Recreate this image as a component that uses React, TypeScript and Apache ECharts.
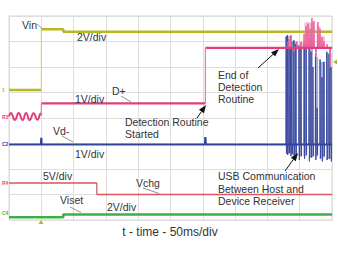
import React, { useEffect, useRef } from "react";
import * as echarts from "echarts";

// Horizontal axis: time in ms (10 div x 50 ms/div). Vertical axis: screen divisions (0..8).
const timeMax = 500;
const timeInterval = 50;
const divMax = 8;

// Vin (2V/div)
const vinTimes = [0, 50, 50, 84, 84, 500];
const vinLevels = [5.1, 5.1, 7.48, 7.48, 7.38, 7.38];

// D+ (1V/div) ripple before attach
const dpRippleTimes = [0, 3, 9, 15, 21, 26.5, 32, 38, 44, 49, 50];
const dpRippleLevels = [4.06, 4.2, 3.92, 4.2, 3.92, 4.2, 3.92, 4.19, 3.93, 4.18, 4.1];
// D+ main steps
const dpTimes = [50, 50, 304, 304, 500];
const dpLevels = [4.1, 4.57, 4.57, 6.75, 6.75];
const dpBase = 6.75;
// D+ spikes during USB traffic
const dpSpikeTimes = [431.9, 436.5, 441.2, 445.8, 452, 456.7, 459.8, 462.9, 466, 469, 472.1, 475.2, 478.3, 481.4, 484.5, 487.6, 492.3, 496.9];
const dpSpikeLevels = [7.0, 7.25, 6.6, 7.0, 6.98, 7.3, 7.6, 7.7, 7.5, 7.92, 7.8, 6.4, 7.76, 7.5, 7.18, 7.0, 6.9, 5.96];
// D+ light glow areas [centre ms, width ms, top]
const dpGlowTimes = [435, 452, 465, 479, 486];
const dpGlowWidths = [5, 6, 15, 6, 6];
const dpGlowTops = [7.2, 7.0, 7.75, 7.6, 7.2];

// Vd- (1V/div)
const vdBase = 2.96;
const vdTimes = [0, 49.5, 50, 50.5, 303.5, 304, 304.5, 500];
const vdLevels = [2.96, 2.96, 3.22, 2.96, 2.96, 3.25, 2.96, 2.96];
const vdSpikeTimes = [429, 431, 433.5, 436, 438, 441, 444, 449, 452, 457, 460, 464.5, 467.5, 470.5, 474.5, 477, 481.5, 484.5, 487.5, 492, 495.5, 498.5];
const vdSpikeHighs = [7.2, 7.25, 7.1, 7.2, 7.0, 7.05, 6.9, 6.85, 6.8, 6.9, 6.7, 6.85, 6.6, 6.0, 6.5, 4.4, 6.3, 5.6, 6.2, 6.6, 6.5, 6.0];
const vdSpikeLows = [2.6, 2.55, 2.62, 2.5, 2.58, 2.45, 2.5, 2.35, 2.5, 2.4, 2.55, 2.3, 2.45, 2.5, 2.35, 2.55, 2.4, 2.3, 2.5, 2.35, 2.4, 2.3];
// Vd- burst blocks [centre ms, width ms, top, bottom]
const vdBlockTimes = [433.4, 442.7, 450.5, 458.2, 467.5, 476, 485.3, 495.4];
const vdBlockWidths = [9.5, 6, 5, 5.5, 6, 5, 7, 7];
const vdBlockTops = [7.22, 7.0, 6.85, 6.85, 6.8, 6.4, 6.2, 6.55];
const vdBlockBottoms = [2.62, 2.55, 2.5, 2.5, 2.45, 2.5, 2.45, 2.4];

// Vchg (5V/div)
const vchgTimes = [0, 136, 136, 500];
const vchgLevels = [1.45, 1.45, 1.0, 1.0];

// Viset (2V/div)
const visetTimes = [0, 84, 84, 500];
const visetLevels = [0.11, 0.11, 0.22, 0.22];

const C_VIN = "#b8b720";
const C_DP = "#e23d7f";
const C_VD = "#34449b";
const C_VCHG = "#d9575c";
const C_VISET = "#40ae46";
const FONT = "Liberation Sans, Arial, sans-serif";
const TXT = "#333333";

// Split a stepped trace into flat segments (thick) and its fast edges (thin)
function splitEdges(times: number[], levels: number[]) {
  const flat: any[] = [];
  const edges: any[] = [];
  for (let i = 0; i < times.length; i++) {
    const isEdge = i > 0 && times[i] === times[i - 1] && Math.abs(levels[i] - levels[i - 1]) > 0.3;
    if (isEdge) {
      flat.push([times[i], null]);
      edges.push([times[i - 1], levels[i - 1]], [times[i], levels[i]], [times[i], null]);
    }
    flat.push([times[i], levels[i]]);
  }
  return { flat, edges };
}

export default function App() {
  const ref = useRef<HTMLDivElement>(null);
  useEffect(() => {
    if (!ref.current) return;
    const chart = echarts.init(ref.current, null, { renderer: "svg" });

    const vin = splitEdges(vinTimes, vinLevels);
    const dp = splitEdges(dpTimes, dpLevels);
    const vchg = splitEdges(vchgTimes, vchgLevels);
    const viset = splitEdges(visetTimes, visetLevels);

    const dpSpikeData: number[][] = [[427, dpBase]];
    dpSpikeTimes.forEach((t, i) => {
      dpSpikeData.push([t - 0.7, dpBase], [t, dpSpikeLevels[i]], [t + 0.7, dpBase]);
    });
    dpSpikeData.push([500, dpBase]);

    const vdData: number[][] = vdTimes.map((t, i) => [t, vdLevels[i]]);
    const vdSpikeData: number[][] = [[427, vdBase]];
    vdSpikeTimes.forEach((t, i) => {
      vdSpikeData.push([t - 0.4, vdBase], [t, vdSpikeHighs[i]], [t + 0.5, vdSpikeLows[i]], [t + 0.9, vdBase]);
    });
    vdSpikeData.push([500, vdBase]);

    const blockData = vdBlockTimes.map((t, i) => [t, vdBlockWidths[i], vdBlockTops[i], vdBlockBottoms[i]]);
    const glowData = dpGlowTimes.map((t, i) => [t, dpGlowWidths[i], dpGlowTops[i], dpBase]);

    const rectRender = (fill: string) => (params: any, api: any) => {
      const t = api.value(0), w = api.value(1), hi = api.value(2), lo = api.value(3);
      const p1 = api.coord([t - w / 2, hi]);
      const p2 = api.coord([t + w / 2, lo]);
      return {
        type: "rect",
        shape: { x: p1[0], y: p1[1], width: p2[0] - p1[0], height: p2[1] - p1[1] },
        style: { fill },
      };
    };

    const text = (s: string, x: number, y: number, size = 10.5, align = "left") => ({
      type: "text",
      x,
      y,
      style: { text: s, fill: TXT, font: `${size}px ${FONT}`, textAlign: align, textVerticalAlign: "middle" },
      z: 100,
    });
    const lead = (x1: number, y1: number, x2: number, y2: number) => ({
      type: "line",
      shape: { x1, y1, x2, y2 },
      style: { stroke: "#777", lineWidth: 0.8 },
      z: 100,
    });
    const arrow = (x1: number, y1: number, x2: number, y2: number) => {
      const dx = x2 - x1, dy = y2 - y1;
      const L = Math.hypot(dx, dy);
      const ux = dx / L, uy = dy / L;
      const bx = x2 - ux * 8, by = y2 - uy * 8;
      const px = -uy * 3, py = ux * 3;
      return [
        { type: "line", shape: { x1, y1, x2: bx, y2: by }, style: { stroke: "#111", lineWidth: 1 }, z: 100 },
        {
          type: "polygon",
          shape: { points: [[x2, y2], [bx + px, by + py], [bx - px, by - py]] },
          style: { fill: "#111" },
          z: 100,
        },
      ];
    };
    const marker = (s: string, y: number, color: string) => ({
      type: "text",
      x: 2,
      y,
      style: { text: s, fill: color, font: `bold 5px ${FONT}`, textVerticalAlign: "middle" },
      z: 100,
    });
    const line = (name: string, data: any[], color: string, width: number, z: number, extra: any = {}) => ({
      name,
      type: "line",
      data,
      symbol: "none",
      connectNulls: false,
      lineStyle: { color, width },
      z,
      ...extra,
    });

    chart.setOption({
      animation: false,
      grid: {
        left: 9,
        top: 16,
        width: 323,
        height: 204,
        show: true,
        borderColor: "#d6d6d6",
        borderWidth: 1,
        backgroundColor: "#fff",
      },
      xAxis: {
        type: "value",
        min: 0,
        max: timeMax,
        interval: timeInterval,
        axisLine: { show: false },
        axisTick: { show: false },
        axisLabel: { show: false },
        splitLine: { lineStyle: { color: "#dedede", width: 1 } },
      },
      yAxis: {
        type: "value",
        min: 0,
        max: divMax,
        interval: 1,
        axisLine: { show: false },
        axisTick: { show: false },
        axisLabel: { show: false },
        splitLine: { lineStyle: { color: "#dedede", width: 1 } },
      },
      series: [
        line("Viset", viset.flat, C_VISET, 2.5, 2),
        line("Viset edge", viset.edges, C_VISET, 1, 2),
        line("Vchg", vchg.flat, C_VCHG, 1.5, 2),
        line("Vchg edge", vchg.edges, "#b03a3a", 1, 2),
        line("Vin", vin.flat, C_VIN, 2.5, 2),
        line("Vin edge", vin.edges, "#cfcf6a", 1, 2),
        {
          name: "VdBlocks",
          type: "custom",
          data: blockData,
          encode: { x: 0, y: 2 },
          renderItem: rectRender("#a7b0dc"),
          z: 3,
        },
        line("Vd- burst", vdSpikeData, "#3a4aa0", 1, 4),
        line("Vd-", vdData, C_VD, 2.2, 4),
        {
          name: "DpGlow",
          type: "custom",
          data: glowData,
          encode: { x: 0, y: 2 },
          renderItem: rectRender("rgba(242,160,192,0.7)"),
          z: 5,
        },
        line("D+ ripple", dpRippleTimes.map((t, i) => [t, dpRippleLevels[i]]), C_DP, 2, 6, { smooth: 0.5 }),
        line("D+ burst", dpSpikeData, "#ea5f96", 1, 6),
        line("D+", dp.flat, C_DP, 2.2, 6),
        line("D+ edge", dp.edges, "#ec7aa6", 1.2, 6),
      ],
      graphic: [
        text("Vin", 22, 24.5),
        lead(37, 24, 42, 28.5),
        text("2V/div", 77, 37),
        text("D+", 112, 90.5),
        lead(121, 96, 131, 102),
        text("1V/div", 75, 99),
        text("Detection Routine", 125, 122),
        text("Started", 125, 134),
        ...arrow(197, 118, 206, 105),
        text("End of", 218, 74.5),
        text("Detection", 218, 87),
        text("Routine", 218, 99),
        ...arrow(258, 68, 279, 49),
        text("Vd-", 53, 131),
        lead(62, 136, 73, 142),
        text("1V/div", 75, 154),
        text("5V/div", 43, 175.5),
        text("Vchg", 136, 183),
        lead(143, 188, 159, 193.5),
        text("Viset", 60, 200),
        lead(70, 207, 81, 212.5),
        text("2V/div", 107, 206.5),
        text("USB Communication", 218, 176),
        text("Between Host and", 218, 189),
        text("Device Receiver", 218, 201),
        ...arrow(285, 171, 298, 153),
        text("t - time - 50ms/div", 170, 232, 12, "center"),
        marker("1", 90, C_VIN),
        marker("R3", 117, C_DP),
        marker("C2", 144, C_VD),
        marker("R4", 183, C_VCHG),
        marker("C4", 213, C_VISET),
        {
          type: "polygon",
          shape: { points: [[333, 62], [337, 59.5], [337, 64.5]] },
          style: { fill: C_VIN },
          z: 100,
        },
        {
          type: "polygon",
          shape: { points: [[41, 220], [38.5, 224], [43.5, 224]] },
          style: { fill: C_VIN },
          z: 100,
        },
      ],
    });
    return () => chart.dispose();
  }, []);
  return (
    <div
      ref={ref}
      style={{ position: "fixed", left: 0, top: 0, width: 338, height: 254, background: "#fff" }}
    />
  );
}
